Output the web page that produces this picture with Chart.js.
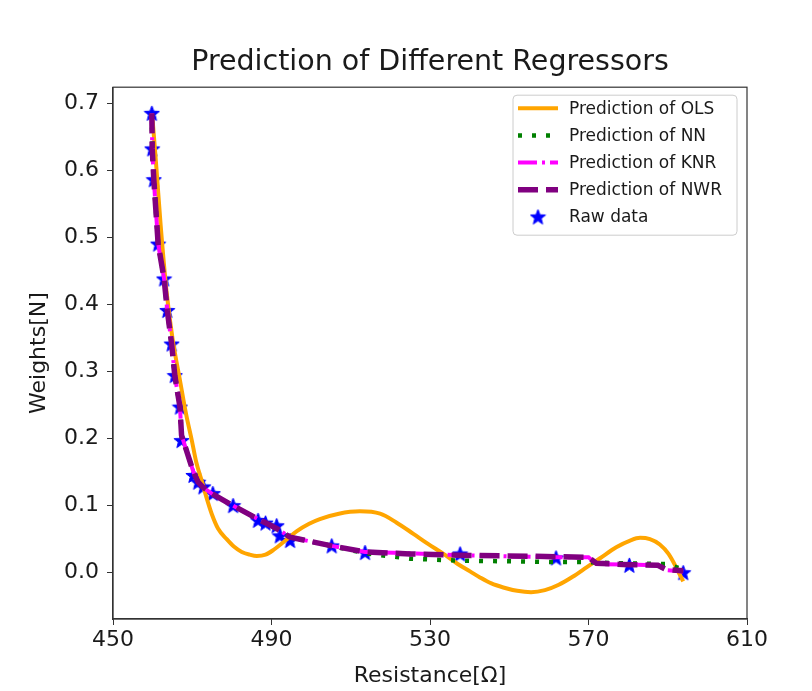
<!DOCTYPE html>
<html>
<head>
<meta charset="utf-8">
<script src="https://cdn.jsdelivr.net/npm/chart.js@4.4.1/dist/chart.umd.min.js"></script>
<style>
  html, body { margin: 0; padding: 0; background: #fff; }
  #wrap { width: 812px; height: 691px; position: relative; }
</style>
</head>
<body>
<div id="wrap"><canvas id="chart" width="812" height="691"></canvas></div>
<script>
// values
const rawX = [459.8, 459.9, 460.3, 461.4, 462.9, 463.7, 464.8, 465.6, 466.9, 467.3, 470.3, 471.5, 472.8, 475.2, 480.3, 486.6, 488.5, 491.3, 492.1, 494.7, 505.2, 513.6, 537.6, 561.8, 580.3, 593.9]
const rawY = [0.685, 0.632, 0.586, 0.490, 0.438, 0.391, 0.341, 0.294, 0.247, 0.197, 0.145, 0.135, 0.128, 0.118, 0.100, 0.078, 0.074, 0.070, 0.055, 0.048, 0.040, 0.030, 0.028, 0.022, 0.011, 0.000]

const olsX = [460, 461, 462, 463.5, 465, 466.9, 468.5, 469.9, 471, 472.4, 473.5, 474.9, 476.5, 478.7, 480.5, 482.5, 484.5, 486.3, 488.5, 490.5, 493.5, 496.4, 499.5, 502.2, 507, 512.3, 517.4, 521.5, 525.8, 529.5, 533.4, 537, 540.1, 542.6, 545.5, 548.5, 552, 555.5, 559, 562.5, 566, 569.5, 573, 577, 580.5, 583, 585.5, 588, 590.2, 592.3, 593.9]
const olsY = [0.675, 0.60, 0.52, 0.42, 0.35, 0.287, 0.235, 0.197, 0.165, 0.137, 0.114, 0.088, 0.066, 0.050, 0.039, 0.031, 0.027, 0.025, 0.027, 0.034, 0.048, 0.062, 0.073, 0.080, 0.088, 0.0915, 0.088, 0.075, 0.058, 0.043, 0.028, 0.013, 0.002, -0.007, -0.016, -0.022, -0.027, -0.029, -0.026, -0.018, -0.006, 0.008, 0.022, 0.038, 0.048, 0.052, 0.050, 0.042, 0.028, 0.006, -0.013]

const predX = [459.8, 459.9, 460.3, 461.4, 462.9, 463.7, 464.8, 465.6, 466.9, 467.3, 470.3, 471.5, 472.8, 475.2, 480.3, 486.6, 491.3, 494.7, 505.2, 513.6, 525, 537.6, 561.8, 570, 572, 580.3, 587.5, 589.5, 593.9]
const nnY  = [0.685, 0.632, 0.586, 0.490, 0.438, 0.391, 0.341, 0.294, 0.247, 0.205, 0.150, 0.135, 0.127, 0.117, 0.100, 0.080, 0.065, 0.053, 0.040, 0.029, 0.021, 0.018, 0.016, 0.016, 0.015, 0.014, 0.013, 0.013, 0.005]
const knrY = [0.685, 0.632, 0.586, 0.490, 0.438, 0.391, 0.341, 0.294, 0.247, 0.205, 0.150, 0.135, 0.127, 0.117, 0.100, 0.080, 0.066, 0.053, 0.040, 0.031, 0.029, 0.026, 0.023, 0.023, 0.013, 0.012, 0.011, 0.004, 0.002]
const nwrY = [0.685, 0.632, 0.586, 0.490, 0.438, 0.391, 0.341, 0.294, 0.247, 0.205, 0.150, 0.135, 0.127, 0.117, 0.100, 0.080, 0.066, 0.053, 0.040, 0.031, 0.028, 0.026, 0.024, 0.023, 0.014, 0.012, 0.011, 0.005, 0.003]

const xTicks = [450, 490, 530, 570, 610]
const yTicks = [0, 0.1, 0.2, 0.3, 0.4, 0.5, 0.6, 0.7]

const FONT = "'DejaVu Sans', sans-serif"
const INK = "#1a1a1a"

const pts = (xs, ys) => xs.map((x, i) => ({ x, y: ys[i] }))

// filled five point star like matplotlib's '*' marker
function makeStar(size) {
  const c = document.createElement("canvas")
  c.width = size; c.height = size
  const g = c.getContext("2d")
  const cx = size / 2, cy = size / 2 + 0.5, ro = size / 2 - 0.5, ri = ro * 0.42
  g.beginPath()
  for (let i = 0; i < 10; i++) {
    const r = i % 2 ? ri : ro
    const a = -Math.PI / 2 + i * Math.PI / 5
    g.lineTo(cx + r * Math.cos(a), cy + r * Math.sin(a))
  }
  g.closePath()
  g.fillStyle = "#0000ff"; g.fill()
  g.strokeStyle = "#0000ff"; g.lineWidth = 1; g.stroke()
  return c
}
const star = makeStar(17)

// top/right spines (matplotlib draws a full box)
const framePlugin = {
  id: "frame",
  afterDatasetsDraw(chart) {
    const { ctx, chartArea: a } = chart
    ctx.save()
    ctx.strokeStyle = "#333"; ctx.lineWidth = 1.2
    ctx.strokeRect(a.left, a.top, a.right - a.left, a.bottom - a.top)
    ctx.restore()
  }
}

// legend box in the upper right corner of the axes
const legendPlugin = {
  id: "mplLegend",
  afterDraw(chart) {
    const { ctx, chartArea: a } = chart
    const w = 224, h = 140
    const x0 = a.right - 10 - w, y0 = a.top + 8
    ctx.save()
    ctx.beginPath()
    ctx.roundRect(x0, y0, w, h, 4)
    ctx.fillStyle = "rgba(255,255,255,0.8)"; ctx.fill()
    ctx.strokeStyle = "#cccccc"; ctx.lineWidth = 1; ctx.stroke()
    ctx.font = "17px " + FONT
    ctx.textBaseline = "middle"
    ctx.fillStyle = INK
    chart.data.datasets.forEach((ds, i) => {
      const cy = y0 + 13 + i * 27.2
      if (ds.showLine) {
        ctx.save()
        ctx.setLineDash(ds.borderDash || [])
        ctx.strokeStyle = ds.borderColor
        ctx.lineWidth = ds.borderWidth
        ctx.beginPath(); ctx.moveTo(x0 + 5, cy); ctx.lineTo(x0 + 45, cy); ctx.stroke()
        ctx.restore()
      } else {
        ctx.drawImage(star, x0 + 25 - star.width / 2, cy - star.height / 2)
      }
      ctx.fillText(ds.label, x0 + 56, cy + 1)
    })
    ctx.restore()
  }
}

const lineSet = (label, data, color, width, dash, order, smooth = false) => ({
  label, data, showLine: true, borderColor: color, backgroundColor: color,
  borderWidth: width, borderDash: dash, pointRadius: 0, pointHoverRadius: 0,
  cubicInterpolationMode: smooth ? "monotone" : "default", tension: 0, fill: false, order
})

new Chart(document.getElementById("chart"), {
  type: "scatter",
  data: {
    datasets: [
      lineSet("Prediction of OLS", pts(olsX, olsY), "#ffa500", 4, [], 4, true),
      lineSet("Prediction of NN", pts(predX, nnY), "#008000", 4.5, [4, 10], 3),
      lineSet("Prediction of KNR", pts(predX, knrY), "#ff00ff", 4, [19, 5, 3, 5], 2),
      lineSet("Prediction of NWR", pts(predX, nwrY), "#800080", 5.5, [20, 8], 1),
      {
        label: "Raw data", data: pts(rawX, rawY), showLine: false,
        pointStyle: star, pointRadius: 8, order: 5
      }
    ]
  },
  options: {
    responsive: false,
    animation: false,
    layout: { padding: { left: 26, right: 65, top: 0, bottom: 2 } },
    plugins: {
      legend: { display: false },
      tooltip: { enabled: false },
      title: {
        display: true, fullSize: false, text: "Prediction of Different Regressors", color: INK,
        font: { family: FONT, size: 28.5, weight: "normal" },
        padding: { top: 45, bottom: 8 }
      }
    },
    scales: {
      x: {
        type: "linear", position: "bottom", min: 450, max: 610,
        afterBuildTicks: (s) => { s.ticks = xTicks.map((v) => ({ value: v })) },
        afterFit: (s) => { s.height = 70 },
        grid: { drawOnChartArea: false, drawTicks: true, tickLength: 6, color: "#333" },
        border: { display: true, color: "#333", width: 1.2 },
        ticks: { font: { family: FONT, size: 22 }, color: INK, padding: 2, maxRotation: 0, autoSkip: false },
        title: { display: true, text: "Resistance[Ω]", color: INK, font: { family: FONT, size: 22 }, padding: 0 }
      },
      y: {
        type: "linear", position: "left", min: -0.069, max: 0.724,
        afterBuildTicks: (s) => { s.ticks = yTicks.map((v) => ({ value: v })) },
        afterFit: (s) => { s.width = 87 },
        grid: { drawOnChartArea: false, drawTicks: true, tickLength: 6, color: "#333" },
        border: { display: true, color: "#333", width: 1.2 },
        ticks: { font: { family: FONT, size: 22 }, color: INK, padding: 8, callback: (v) => v.toFixed(1) },
        title: { display: true, text: "Weights[N]", color: INK, font: { family: FONT, size: 22 }, padding: 0 }
      }
    }
  },
  plugins: [framePlugin, legendPlugin]
})
</script>
</body>
</html>
